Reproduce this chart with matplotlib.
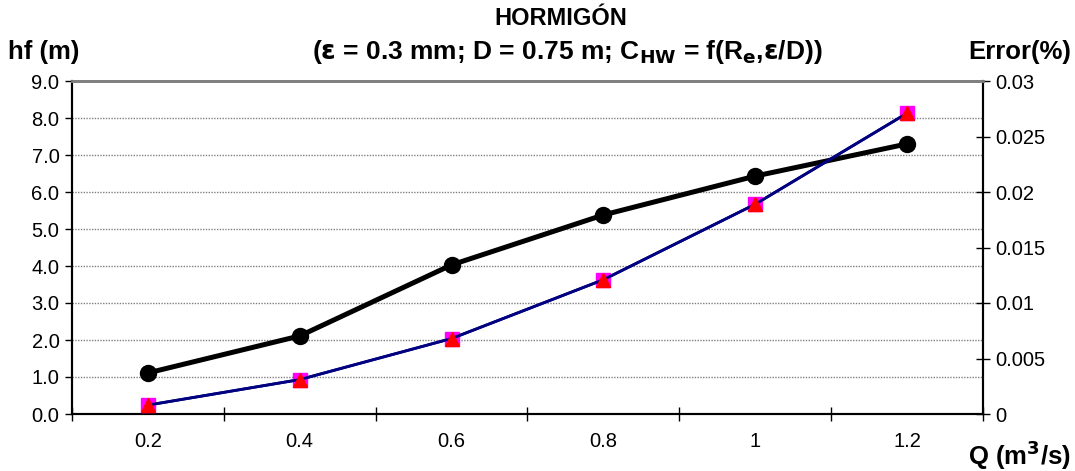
import numpy as np
import matplotlib
matplotlib.use('Agg')
import matplotlib.pyplot as plt

plt.rcParams['font.family'] = ['Liberation Sans', 'DejaVu Sans']

caudal = ['0.2', '0.4', '0.6', '0.8', '1', '1.2']
hf = [1.11, 2.11, 4.03, 5.38, 6.43, 7.30]
error_a = [0.0008, 0.0031, 0.0068, 0.0121, 0.0189, 0.0271]
error_b = [0.0008, 0.0031, 0.0068, 0.0121, 0.0189, 0.0271]


def main():
    fig = plt.figure(figsize=(10.75, 4.71), dpi=100)
    ax = fig.add_axes([72 / 1075, 57 / 471, 911 / 1075, 333 / 471])
    ax2 = ax.twinx()

    x = np.arange(len(caudal))

    # grid lines on left axis
    ax.set_ylim(0, 9)
    ax.set_yticks(np.arange(0, 9.1, 1.0))
    ax.set_yticklabels(['%.1f' % v for v in np.arange(0, 9.1, 1.0)])
    for v in np.arange(1, 9, 1.0):
        ax.axhline(v, color='#808080', lw=1, ls=(0, (1, 1)), zorder=0)

    ax.plot(x, hf, color='black', lw=3.6, marker='o', ms=11.5, zorder=5)

    ax2.plot(x, error_a, color='#000080', lw=2, marker='s', ms=10,
             mfc='#FF00FF', mec='#FF00FF', zorder=3)
    ax2.plot(x, error_b, color='#000080', lw=2, marker='^', ms=10,
             mfc='red', mec='red', zorder=4)
    ax2.set_ylim(0, 0.03)
    ax2.set_yticks([0, 0.005, 0.01, 0.015, 0.02, 0.025, 0.03])
    ax2.set_yticklabels(['0', '0.005', '0.01', '0.015', '0.02', '0.025', '0.03'])

    ax.set_xlim(-0.5, len(caudal) - 0.5)
    ax.set_xticks(np.arange(-0.5, len(caudal), 1.0))
    ax.set_xticklabels([])
    ax.set_xticks(x, minor=True)
    ax.set_xticklabels(caudal, minor=True)
    ax.tick_params(axis='x', which='major', direction='inout', length=10, width=1)
    ax.tick_params(axis='x', which='minor', length=0, labelsize=14.5, pad=13)
    ax.tick_params(axis='y', direction='out', length=5, width=1, labelsize=14.5, pad=4)
    ax2.tick_params(axis='y', direction='inout', length=10, width=1, labelsize=14.5, pad=4)

    for a in (ax, ax2):
        a.spines['top'].set_color('#808080')
        a.spines['top'].set_linewidth(2)
        a.spines['left'].set_linewidth(1.5)
        a.spines['right'].set_linewidth(1.5)
        a.spines['bottom'].set_linewidth(1.5)

    fig.text(0.522, 0.96, 'HORMIGÓN', ha='center', va='center',
             fontsize=17, fontweight='bold')
    fig.text(0.528, 0.89, r'($\mathbf{\varepsilon}$ = 0.3 mm; D = 0.75 m; C$_{\mathbf{HW}}$ = f(R$_{\mathbf{e}}$,$\mathbf{\varepsilon}$/D))',
             ha='center', va='center', fontsize=19, fontweight='bold')
    fig.text(0.007, 0.89, 'hf (m)', ha='left', va='center',
             fontsize=18.5, fontweight='bold')
    fig.text(0.996, 0.89, 'Error(%)', ha='right', va='center',
             fontsize=18.5, fontweight='bold')
    fig.text(0.996, 0.034, r'Q (m$^{\mathbf{3}}$/s)', ha='right', va='center',
             fontsize=18.5, fontweight='bold')

    fig.savefig('out.png', dpi=100)


if __name__ == '__main__':
    main()
